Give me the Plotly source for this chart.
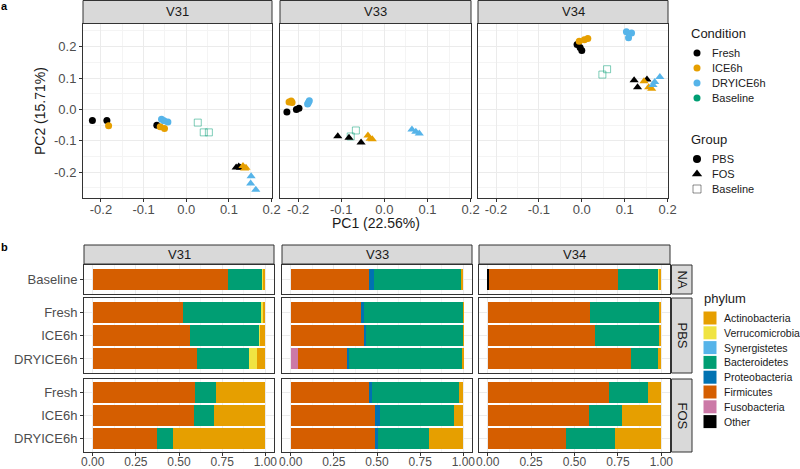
import plotly.graph_objects as go

W, H = 800, 469

# ---- panel a: PCA points ----
regions = ["V31", "V33", "V34"]

pca_region = (["V31"] * 21) + (["V33"] * 20) + (["V34"] * 20)
pca_condition = (
    ["Fresh"] * 3 + ["ICE6h"] * 3 + ["DRYICE6h"] * 3 + ["Baseline"] * 3
    + ["Fresh"] * 3 + ["ICE6h"] * 3 + ["DRYICE6h"] * 3
    + ["Fresh"] * 3 + ["ICE6h"] * 3 + ["DRYICE6h"] * 3 + ["Baseline"] * 2
    + ["Fresh"] * 3 + ["ICE6h"] * 3 + ["DRYICE6h"] * 3
    + ["Fresh"] * 3 + ["ICE6h"] * 3 + ["DRYICE6h"] * 3 + ["Baseline"] * 2
    + ["Fresh"] * 3 + ["ICE6h"] * 3 + ["DRYICE6h"] * 3
)
pca_group = (
    ["PBS"] * 9 + ["Baseline"] * 3 + ["FOS"] * 9
    + ["PBS"] * 9 + ["Baseline"] * 2 + ["FOS"] * 9
    + ["PBS"] * 9 + ["Baseline"] * 2 + ["FOS"] * 9
)
pc1 = [
    -0.220, -0.186, -0.069, -0.182, -0.061, -0.051, -0.058, -0.043, -0.052,
    0.027, 0.041, 0.053,
    0.117, 0.123, 0.127, 0.133, 0.137, 0.140, 0.152, 0.151, 0.163,
    -0.226, -0.204, -0.198, -0.221, -0.214, -0.216, -0.178, -0.174, -0.176,
    -0.066, -0.078,
    -0.108, -0.082, -0.054, -0.038, -0.033, -0.028, 0.064, 0.073, 0.081,
    -0.011, -0.004, 0.000, -0.006, 0.006, 0.014, 0.104, 0.116, 0.109,
    0.048, 0.059,
    0.122, 0.130, 0.152, 0.145, 0.156, 0.163, 0.166, 0.170, 0.182,
]
pc2 = [
    -0.035, -0.035, -0.050, -0.052, -0.055, -0.061, -0.031, -0.040, -0.036,
    -0.042, -0.073, -0.073,
    -0.185, -0.182, -0.186, -0.180, -0.188, -0.186, -0.213, -0.236, -0.256,
    -0.008, 0.000, 0.004, 0.024, 0.022, 0.027, 0.017, 0.028, 0.022,
    -0.067, -0.086,
    -0.085, -0.090, -0.105, -0.083, -0.093, -0.095, -0.064, -0.071, -0.077,
    0.207, 0.197, 0.188, 0.217, 0.222, 0.226, 0.247, 0.243, 0.228,
    0.111, 0.128,
    0.093, 0.071, 0.095, 0.090, 0.071, 0.066, 0.078, 0.087, 0.103,
]

conditions = ["Fresh", "ICE6h", "DRYICE6h", "Baseline"]
groups = ["PBS", "FOS", "Baseline"]
cond_colors = {"Fresh": "#000000", "ICE6h": "#E69F00", "DRYICE6h": "#56B4E9", "Baseline": "#009E73"}
group_symbols = {"PBS": "circle", "FOS": "triangle-up", "Baseline": "square-open"}
group_sizes = {"PBS": 7, "FOS": 8, "Baseline": 7}

# ---- panel b: phylum composition ----
bar_samples = ["Baseline", "Fresh", "ICE6h", "DRYICE6h", "Fresh", "ICE6h", "DRYICE6h"]
bar_rows = ["NA", "PBS", "PBS", "PBS", "FOS", "FOS", "FOS"]
# values per phylum: V31 (7 samples), V33 (7), V34 (7)
other = [0, 0, 0, 0, 0, 0, 0,  0, 0, 0, 0, 0, 0, 0,  0.006, 0, 0, 0, 0, 0, 0]
fusobacteria = [0, 0, 0, 0, 0, 0, 0,  0, 0, 0, 0.040, 0, 0, 0,  0, 0, 0, 0, 0, 0, 0]
firmicutes = [0.782, 0.524, 0.562, 0.605, 0.593, 0.587, 0.371,
              0.451, 0.410, 0.424, 0.286, 0.453, 0.489, 0.489,
              0.742, 0.588, 0.620, 0.827, 0.699, 0.586, 0.451]
proteobacteria = [0, 0, 0, 0, 0, 0, 0,
                  0.031, 0.014, 0.015, 0.013, 0.017, 0.027, 0.018,
                  0, 0, 0, 0, 0, 0, 0]
bacteroidetes = [0.203, 0.449, 0.403, 0.299, 0.120, 0.118, 0.093,
                 0.504, 0.574, 0.559, 0.655, 0.505, 0.430, 0.293,
                 0.238, 0.402, 0.365, 0.152, 0.222, 0.189, 0.285]
synergistetes = [0] * 21
verrucomicrobia = [0.003, 0.013, 0.005, 0.046, 0, 0, 0,
                   0, 0, 0, 0.002, 0, 0, 0,
                   0.004, 0, 0, 0, 0, 0, 0]
actinobacteria = [0.012, 0.014, 0.030, 0.050, 0.287, 0.295, 0.536,
                  0.014, 0.002, 0.002, 0.004, 0.025, 0.054, 0.200,
                  0.010, 0.010, 0.015, 0.021, 0.079, 0.225, 0.264]

phyla = ["Other", "Fusobacteria", "Firmicutes", "Proteobacteria",
         "Bacteroidetes", "Synergistetes", "Verrucomicrobia", "Actinobacteria"]
phylum_values = [other, fusobacteria, firmicutes, proteobacteria,
                 bacteroidetes, synergistetes, verrucomicrobia, actinobacteria]
phylum_colors = ["#000000", "#CC79A7", "#D55E00", "#0072B2",
                 "#009E73", "#56B4E9", "#F0E442", "#E69F00"]
row_names = ["NA", "PBS", "FOS"]


def fx(p):
    return p / W


def fy(p):
    return 1 - p / H


FONT = "Liberation Sans, Arial, sans-serif"
TICKFONT = dict(family=FONT, size=13, color="#4D4D4D")
GRID = "#EBEBEB"
MINOR = "#F4F4F4"
BORDER = "#333333"

fig = go.Figure()
layout = {}
shapes = []
annotations = []


def label(text, x, y, size=13, xanchor="center", **kw):
    annotations.append(dict(text=text, x=fx(x), y=fy(y), xref="paper", yref="paper",
                            xanchor=xanchor, yanchor="middle", showarrow=False,
                            font=dict(family=FONT, size=size, color=kw.pop("color", "#1A1A1A")), **kw))


# scatter panels
sc_cols = [(83, 272), (280, 471), (478, 668)]
sc_row = (24, 198)
for i, reg in enumerate(regions):
    n = "" if i == 0 else str(i + 1)
    idx = [k for k, r in enumerate(pca_region) if r == reg]
    fig.add_trace(go.Scatter(
        x=[pc1[k] for k in idx], y=[pc2[k] for k in idx], mode="markers",
        xaxis="x" + n, yaxis="y" + n, showlegend=False,
        marker=dict(
            color=["rgba(0,158,115,0.5)" if pca_group[k] == "Baseline" else cond_colors[pca_condition[k]] for k in idx],
            symbol=[group_symbols[pca_group[k]] for k in idx],
            size=[group_sizes[pca_group[k]] for k in idx],
            opacity=1,
            line=dict(width=[1 if pca_group[k] == "Baseline" else 0 for k in idx]),
        ),
    ))
    layout["xaxis" + n] = dict(
        domain=[fx(sc_cols[i][0]), fx(sc_cols[i][1])], anchor="y" + n, automargin=False,
        range=[-0.242, 0.201], tickvals=[-0.2, -0.1, 0, 0.1, 0.2],
        ticktext=["-0.2", "-0.1", "0.0", "0.1", "0.2"],
        showgrid=True, gridcolor=GRID, gridwidth=1, zeroline=False,
        minor=dict(tickvals=[-0.15, -0.05, 0.05, 0.15], showgrid=True, gridcolor=MINOR, gridwidth=0.6),
        showline=True, mirror=True, linecolor=BORDER, linewidth=1,
        ticks="outside", ticklen=3, tickcolor=BORDER, tickfont=TICKFONT, ticklabelstandoff=-4,
    )
    layout["yaxis" + n] = dict(
        domain=[fy(sc_row[1]), fy(sc_row[0])], anchor="x" + n, automargin=False,
        range=[-0.282, 0.272], tickvals=[-0.2, -0.1, 0, 0.1, 0.2],
        ticktext=["-0.2", "-0.1", "0.0", "0.1", "0.2"],
        showgrid=True, gridcolor=GRID, gridwidth=1, zeroline=False,
        minor=dict(tickvals=[-0.25, -0.15, -0.05, 0.05, 0.15, 0.25], showgrid=True, gridcolor=MINOR, gridwidth=0.6),
        showline=True, mirror=True, linecolor=BORDER, linewidth=1,
        ticks="outside" if i == 0 else "", ticklen=3, tickcolor=BORDER,
        showticklabels=(i == 0), tickfont=TICKFONT,
    )
    shapes.append(dict(type="rect", xref="paper", yref="paper",
                       x0=fx(sc_cols[i][0]), x1=fx(sc_cols[i][1]), y0=fy(23.5), y1=fy(0.5),
                       fillcolor="#D9D9D9", line=dict(color=BORDER, width=1)))
    label(reg, sum(sc_cols[i]) / 2, 12)

# bar panels
bar_cols = [(84, 274), (282, 472), (479, 670)]
bar_rows_px = [(265, 294), (298, 373), (379, 452)]
for c, reg in enumerate(regions):
    for r, row in enumerate(row_names):
        k = 4 + r * 3 + c
        idx = [c * 7 + j for j in range(7) if bar_rows[j] == row]
        cats = [bar_samples[j - c * 7] for j in idx]
        for ph, vals, col in zip(phyla, phylum_values, phylum_colors):
            fig.add_trace(go.Bar(
                x=[vals[j] for j in idx], y=cats, orientation="h", width=0.9,
                marker=dict(color=col, line=dict(width=0)),
                xaxis="x%d" % k, yaxis="y%d" % k, showlegend=False, name=ph,
            ))
        bottom = (r == 2)
        layout["xaxis%d" % k] = dict(
            domain=[fx(bar_cols[c][0]), fx(bar_cols[c][1])], anchor="y%d" % k, automargin=False,
            range=[-0.05, 1.05], tickvals=[0, 0.25, 0.5, 0.75, 1],
            ticktext=["0.00", "0.25", "0.50", "0.75", "1.00"],
            showgrid=True, gridcolor=GRID, gridwidth=1, zeroline=False,
            minor=dict(tickvals=[0.125, 0.375, 0.625, 0.875], showgrid=True, gridcolor=MINOR, gridwidth=0.6),
            showline=True, mirror=True, linecolor=BORDER, linewidth=1,
            ticks="outside" if bottom else "", ticklen=3, tickcolor=BORDER,
            showticklabels=bottom, tickfont=dict(TICKFONT, size=12), ticklabelstandoff=-4,
        )
        n = len(cats)
        layout["yaxis%d" % k] = dict(
            domain=[fy(bar_rows_px[r][1]), fy(bar_rows_px[r][0])], anchor="x%d" % k, automargin=False,
            type="category", categoryorder="array", categoryarray=cats,
            range=[n - 1 + 0.6, -0.6], showgrid=True, gridcolor=GRID, zeroline=False,
            showline=True, mirror=True, linecolor=BORDER, linewidth=1,
            ticks="outside" if c == 0 else "", ticklen=3, tickcolor=BORDER,
            showticklabels=(c == 0), tickfont=TICKFONT,
        )
    shapes.append(dict(type="rect", xref="paper", yref="paper",
                       x0=fx(bar_cols[c][0]), x1=fx(bar_cols[c][1]), y0=fy(264), y1=fy(245),
                       fillcolor="#D9D9D9", line=dict(color=BORDER, width=1)))
    label(reg, sum(bar_cols[c]) / 2, 254.5)

for r, row in enumerate(row_names):
    shapes.append(dict(type="rect", xref="paper", yref="paper",
                       x0=fx(671.5), x1=fx(692), y0=fy(bar_rows_px[r][1]), y1=fy(bar_rows_px[r][0]),
                       fillcolor="#D9D9D9", line=dict(color=BORDER, width=1)))
    label(row, 682, sum(bar_rows_px[r]) / 2, textangle=90)

# legend keys on a hidden pixel-scaled axis
leg_x, leg_y, leg_sym, leg_col, leg_size, leg_lw = [], [], [], [], [], []
for i, cnd in enumerate(conditions):
    leg_x.append(697); leg_y.append(53 + 15 * i); leg_sym.append("circle")
    leg_col.append(cond_colors[cnd]); leg_size.append(7); leg_lw.append(0)
    label(cnd, 710, 53 + 15 * i, size=11, xanchor="left")
for i, g in enumerate(groups):
    leg_x.append(697); leg_y.append(159 + 15 * i); leg_sym.append(group_symbols[g])
    leg_col.append("rgba(0,0,0,0.45)" if g == "Baseline" else "#000000"); leg_size.append(group_sizes[g] + 1)
    leg_lw.append(1 if g == "Baseline" else 0)
    label(g, 710, 159 + 15 * i, size=11, xanchor="left")
for i, ph in enumerate(phyla[::-1]):
    leg_x.append(710); leg_y.append(318 + 14.8 * i); leg_sym.append("square")
    leg_col.append(phylum_colors[::-1][i]); leg_size.append(13); leg_lw.append(0)
    label(ph, 722, 318 + 14.8 * i, size=10.5, xanchor="left")

fig.add_trace(go.Scatter(x=leg_x, y=leg_y, mode="markers", xaxis="x13", yaxis="y13", showlegend=False,
                         marker=dict(symbol=leg_sym, color=leg_col, size=leg_size, opacity=1,
                                     line=dict(width=leg_lw))))
layout["xaxis13"] = dict(domain=[fx(686), 1], range=[686, 800], visible=False, anchor="y13", automargin=False)
layout["yaxis13"] = dict(domain=[0, 1], range=[469, 0], visible=False, anchor="x13", automargin=False)

label("Condition", 689, 33, xanchor="left")
label("Group", 689, 139, xanchor="left")
label("phylum", 702, 298, xanchor="left")
label("PC1 (22.56%)", 375.5, 223, size=14)
label("PC2 (15.71%)", 40, 111, size=14, textangle=-90)
label("<b>a</b>", 4, 6, size=11, color="#000000")
label("<b>b</b>", 4, 247, size=11, color="#000000")

fig.update_layout(
    width=W, height=H, margin=dict(l=0, r=0, t=0, b=0, autoexpand=False),
    paper_bgcolor="white", plot_bgcolor="white", barmode="stack", bargap=0.1,
    shapes=shapes, annotations=annotations, showlegend=False,
    font=dict(family=FONT), **layout,
)

fig.write_html("out.html", config={"displayModeBar": False},
               post_script="document.body.style.margin='0';")
